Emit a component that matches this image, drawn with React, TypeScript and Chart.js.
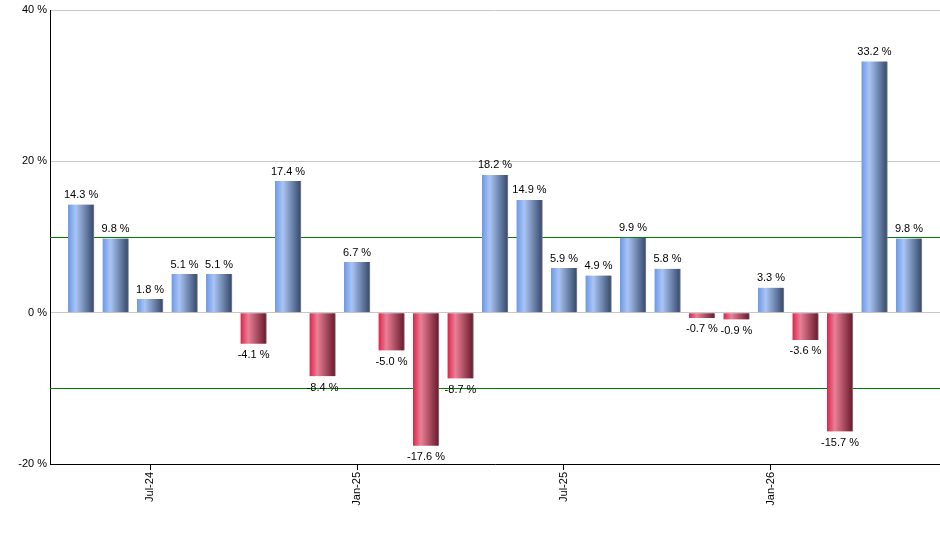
import React, { useRef, useEffect } from 'react'
import Chart from 'chart.js/auto'

const months = [
	'May-24', 'Jun-24', 'Jul-24', 'Aug-24', 'Sep-24', 'Oct-24', 'Nov-24', 'Dec-24',
	'Jan-25', 'Feb-25', 'Mar-25', 'Apr-25', 'May-25', 'Jun-25', 'Jul-25', 'Aug-25',
	'Sep-25', 'Oct-25', 'Nov-25', 'Dec-25', 'Jan-26', 'Feb-26', 'Mar-26', 'Apr-26', 'May-26',
]
const returns = [
	14.3, 9.8, 1.8, 5.1, 5.1, -4.1, 17.4, -8.4, 6.7, -5.0, -17.6, -8.7, 18.2,
	14.9, 5.9, 4.9, 9.9, 5.8, -0.7, -0.9, 3.3, -3.6, -15.7, 33.2, 9.8,
]
const tickLabels = ['Jul-24', 'Jan-25', 'Jul-25', 'Jan-26']
const bandLines = [10, -10]

const FONT = '"Liberation Sans", Arial, sans-serif'

const barFill = (context: any) => {
	const chart = context.chart
	const xs = chart.scales?.x
	const v = returns[context.dataIndex]
	const pos = v >= 0
	if (!xs || !chart.chartArea) return pos ? '#7aa4ec' : '#de2a50'
	const xc = xs.getPixelForValue(context.dataIndex)
	const g = chart.ctx.createLinearGradient(xc - 13, 0, xc + 13, 0)
	if (pos) {
		g.addColorStop(0, '#6c98e6')
		g.addColorStop(0.3, '#aac5f4')
		g.addColorStop(1, '#344769')
	} else {
		g.addColorStop(0, '#dc2449')
		g.addColorStop(0.3, '#ea8097')
		g.addColorStop(1, '#661829')
	}
	return g
}

// green reference lines behind the bars
const bandPlugin = {
	id: 'bands',
	beforeDatasetsDraw(chart: any) {
		const { ctx, chartArea, scales } = chart
		ctx.save()
		ctx.strokeStyle = '#008000'
		ctx.lineWidth = 1
		bandLines.forEach(v => {
			const y = Math.round(scales.y.getPixelForValue(v)) + 0.5
			ctx.beginPath()
			ctx.moveTo(chartArea.left, y)
			ctx.lineTo(chartArea.right, y)
			ctx.stroke()
		})
		ctx.restore()
	},
}

// value labels above / below each bar
const valuePlugin = {
	id: 'values',
	afterDatasetsDraw(chart: any) {
		const { ctx } = chart
		const meta = chart.getDatasetMeta(0)
		ctx.save()
		ctx.font = '11px ' + FONT
		ctx.fillStyle = '#000'
		ctx.textAlign = 'center'
		meta.data.forEach((el: any, i: number) => {
			const v = returns[i]
			const text = v.toFixed(1) + ' %'
			if (v >= 0) {
				ctx.textBaseline = 'bottom'
				ctx.fillText(text, el.x, el.y - 4)
			} else {
				ctx.textBaseline = 'top'
				ctx.fillText(text, el.x, el.y + 6)
			}
		})
		ctx.restore()
	},
}

const App: React.FC = () => {
	const chartRef = useRef<HTMLCanvasElement | null>(null)

	useEffect(() => {
		document.body.style.margin = '0'
		if (!chartRef.current) return
		const ctx = chartRef.current.getContext('2d')
		if (!ctx) return
		const chart = new Chart(ctx, {
			type: 'bar',
			data: {
				datasets: [
					{
						data: returns.map((v, i) => ({ x: i, y: v })),
						backgroundColor: barFill,
						borderColor: '#8a8a8a',
						borderWidth: { top: 0, right: 1, bottom: 0, left: 0 },
						borderSkipped: false,
						barThickness: 26,
					},
				],
			},
			options: {
				animation: false,
				responsive: true,
				maintainAspectRatio: false,
				layout: { padding: { top: 10, right: 0, bottom: 0, left: 0 } },
				plugins: {
					legend: { display: false },
					tooltip: { enabled: false },
				},
				scales: {
					x: {
						type: 'linear',
						min: -0.9,
						max: 24.9,
						offset: false,
						grid: {
							offset: false,
							drawOnChartArea: false,
							drawTicks: true,
							tickLength: 6,
							color: '#000',
						},
						border: { color: '#000', width: 1 },
						afterBuildTicks: (scale: any) => {
							scale.ticks = tickLabels.map(l => ({ value: months.indexOf(l) }))
						},
						afterFit: (scale: any) => {
							scale.height = 86
						},
						ticks: {
							autoSkip: false,
							maxRotation: 90,
							minRotation: 90,
							padding: 2,
							color: '#000',
							font: { family: FONT, size: 11 },
							callback: (v: any) => months[v],
						},
					},
					y: {
						min: -20,
						max: 40,
						grid: { color: '#c8c8c8', drawTicks: false },
						border: { color: '#000', width: 1 },
						afterFit: (scale: any) => {
							scale.width = 50
						},
						ticks: {
							stepSize: 20,
							padding: 3,
							color: '#000',
							font: { family: FONT, size: 11 },
							callback: (v: any) => v + ' %',
						},
					},
				},
			},
			plugins: [bandPlugin, valuePlugin],
		})
		return () => {
			chart.destroy()
		}
	}, [])

	return (
		<div style={{ width: 940, height: 550, position: 'relative' }}>
			<canvas ref={chartRef} />
		</div>
	)
}

export default App
